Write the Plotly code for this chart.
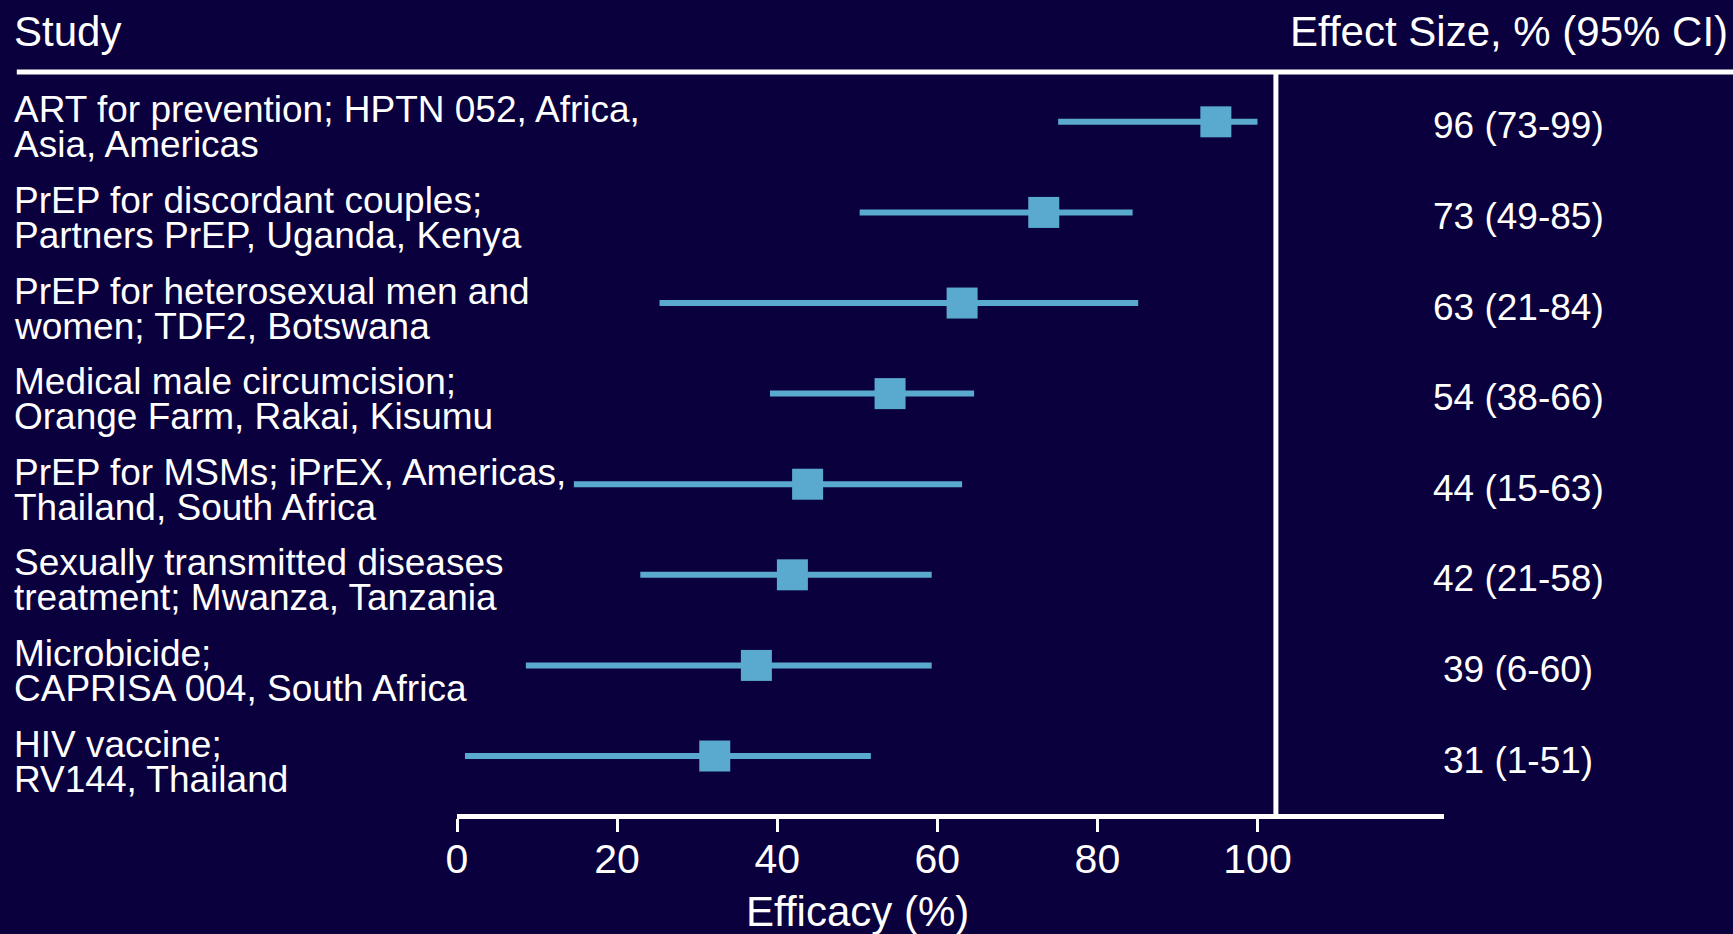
import plotly.graph_objects as go

# ---- data ----
study_line1 = [
    "ART for prevention; HPTN 052, Africa,",
    "PrEP for discordant couples;",
    "PrEP for heterosexual men and",
    "Medical male circumcision;",
    "PrEP for MSMs; iPrEX, Americas,",
    "Sexually transmitted diseases",
    "Microbicide;",
    "HIV vaccine;",
]
study_line2 = [
    "Asia, Americas",
    "Partners PrEP, Uganda, Kenya",
    "women; TDF2, Botswana",
    "Orange Farm, Rakai, Kisumu",
    "Thailand, South Africa",
    "treatment; Mwanza, Tanzania",
    "CAPRISA 004, South Africa",
    "RV144, Thailand",
]
effect_labels = [
    "96 (73-99)", "73 (49-85)", "63 (21-84)", "54 (38-66)",
    "44 (15-63)", "42 (21-58)", "39 (6-60)", "31 (1-51)",
]
# values as drawn in the picture
point = [94.8, 73.3, 63.1, 54.1, 43.8, 41.9, 37.4, 32.2]
ci_low = [75.1, 50.3, 25.3, 39.1, 14.6, 22.9, 8.6, 1.0]
ci_high = [100.0, 84.4, 85.1, 64.6, 63.1, 59.3, 59.3, 51.7]
x_ticks = [0, 20, 40, 60, 80, 100]
x_title = "Efficacy (%)"
header_left = "Study"
header_right = "Effect Size, % (95% CI)"

# ---- style ----
BG = "#0a003d"
MARK = "#5aaacf"
FONT = "Liberation Sans, Arial, sans-serif"
rows = list(range(len(point)))

fig = go.Figure()

lx, ly = [], []
for i in rows:
    lx += [ci_low[i], ci_high[i], None]
    ly += [i, i, None]
fig.add_trace(go.Scatter(x=lx, y=ly, mode="lines",
                         line=dict(color=MARK, width=6),
                         hoverinfo="skip", showlegend=False))
fig.add_trace(go.Scatter(x=point, y=rows, mode="markers",
                         marker=dict(symbol="square", size=31, color=MARK,
                                     line=dict(width=0)),
                         showlegend=False))

ann = []
for i in rows:
    ann.append(dict(x=0, xref="paper", xshift=-445, xanchor="left", y=i, yref="y",
                    yshift=12, text=study_line1[i], showarrow=False,
                    font=dict(size=37, color="white", family=FONT)))
    ann.append(dict(x=0, xref="paper", xshift=-445, xanchor="left", y=i, yref="y",
                    yshift=-23, text=study_line2[i], showarrow=False,
                    font=dict(size=37, color="white", family=FONT)))
    ann.append(dict(x=1, xref="paper", xshift=74, xanchor="center", y=i, yref="y",
                    yshift=-4, text=effect_labels[i], showarrow=False,
                    font=dict(size=37, color="white", family=FONT)))

ann.append(dict(x=0, xref="paper", xshift=-445, xanchor="left",
                y=1, yref="paper", yshift=41, yanchor="middle",
                text=header_left, showarrow=False,
                font=dict(size=42, color="white", family=FONT)))
ann.append(dict(x=1, xref="paper", xshift=286, xanchor="right",
                y=1, yref="paper", yshift=41, yanchor="middle",
                text=header_right, showarrow=False,
                font=dict(size=42, color="white", family=FONT)))
ann.append(dict(x=50, xref="x", xanchor="center",
                y=0, yref="paper", yshift=-97, yanchor="middle",
                text=x_title, showarrow=False,
                font=dict(size=42, color="white", family=FONT)))

shapes = [
    dict(type="line", xref="paper", yref="paper", x0=-0.446, x1=1.3, y0=1, y1=1,
         line=dict(color="white", width=5)),
    dict(type="line", xref="x", yref="paper", x0=102.3, x1=102.3, y0=0, y1=1,
         line=dict(color="white", width=5)),
]

fig.update_layout(
    width=1733, height=934,
    paper_bgcolor=BG, plot_bgcolor=BG,
    margin=dict(l=457, r=289, t=72, b=120),
    annotations=ann, shapes=shapes,
    showlegend=False,
    font=dict(family=FONT, color="white"),
    xaxis=dict(range=[0, 123.3], tickvals=x_ticks, showgrid=False, zeroline=False,
               showline=True, linecolor="white", linewidth=5,
               ticks="outside", ticklen=13, tickwidth=3, tickcolor="white",
               ticklabelstandoff=-8,
               tickfont=dict(size=41, color="white", family=FONT), fixedrange=True),
    yaxis=dict(range=[7.64, -0.55], showgrid=False, zeroline=False,
               showticklabels=False, showline=False, fixedrange=True),
)

fig.write_html("out.html",
               config={"displayModeBar": False},
               post_script="document.body.style.margin='0';document.body.style.background='%s';" % BG)
